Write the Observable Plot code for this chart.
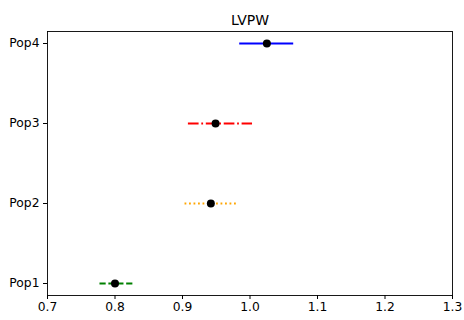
<!DOCTYPE html>
<html>
<head>
<meta charset="utf-8">
<script src="https://cdn.jsdelivr.net/npm/d3@7"></script>
<script src="https://cdn.jsdelivr.net/npm/@observablehq/plot@0.6"></script>
<style>
  html, body { margin: 0; padding: 0; background: #fff; }
  #chart svg { display: block; }
</style>
</head>
<body>
<div id="chart"></div>
<script>
const title = "LVPW";
const pops = ["Pop1", "Pop2", "Pop3", "Pop4"];
const means = [0.800, 0.942, 0.949, 1.025];
const lows = [0.777, 0.903, 0.908, 0.984];
const highs = [0.826, 0.980, 1.003, 1.064];
const xTicks = [0.7, 0.8, 0.9, 1.0, 1.1, 1.2, 1.3];

const colors = ["#008000", "#FFA500", "#FF0000", "#0000FF"];
const dashes = ["6.2,2.7", "1.8,2.7", "10.7,2.7,1.8,2.7", null];

const rows = pops.map((p, i) => ({pop: p, mean: means[i], lo: lows[i], hi: highs[i]}));

const font = "DejaVu Sans, sans-serif";

const chart = Plot.plot({
  width: 464,
  height: 320,
  marginLeft: 47,
  marginRight: 12,
  marginTop: 31,
  marginBottom: 25,
  style: {fontFamily: font, fontSize: "12.3px", background: "#fff", color: "#000"},
  x: {domain: [0.7, 1.3], ticks: xTicks, tickFormat: d3.format(".1f"), tickSize: 4, tickPadding: 3, label: null},
  y: {type: "point", domain: [...pops].reverse(), padding: 0.15, tickSize: 4, tickPadding: 4, label: null},
  marks: [
    ...rows.map((r, i) => Plot.link([r], {
      x1: "lo", x2: "hi", y1: "pop", y2: "pop",
      stroke: colors[i], strokeWidth: 1.8,
      strokeDasharray: dashes[i] || undefined
    })),
    Plot.dot(rows, {x: "mean", y: "pop", r: 4, fill: "#000", stroke: "none"}),
    Plot.frame({stroke: "#000", strokeWidth: 0.9}),
    Plot.text([title], {frameAnchor: "top", dy: -11, text: d => d, fontSize: 14, lineAnchor: "middle", fill: "#000"})
  ]
});
document.getElementById("chart").appendChild(chart);
</script>
</body>
</html>
